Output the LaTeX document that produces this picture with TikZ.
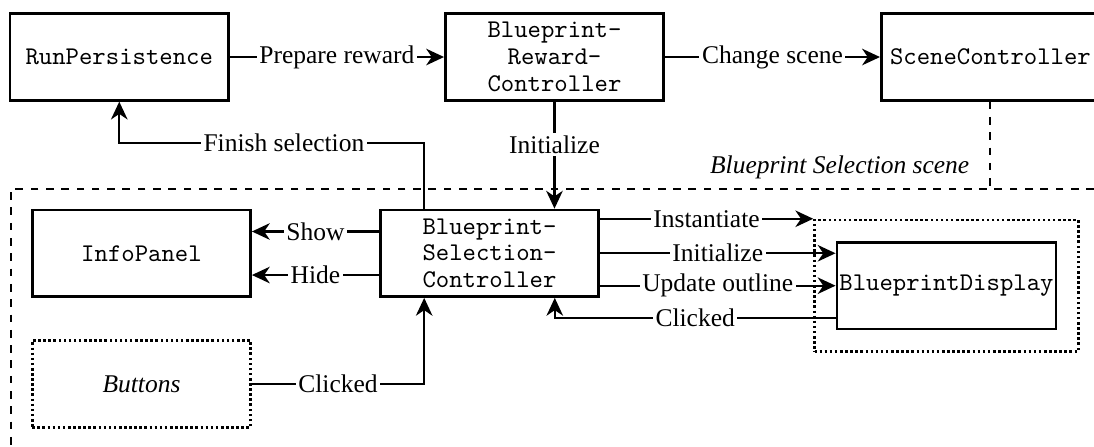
\documentclass[tikz,border=0pt]{standalone}
\usepackage{fontspec}
\setmainfont{Liberation Serif}
\usetikzlibrary{arrows.meta,fit}

\begin{document}
\begin{tikzpicture}[>={Stealth[length=7pt,width=6.5pt,inset=2.2pt]}]
    \tikzstyle{block}=[draw,line width=1pt,minimum width=3.01cm,minimum height=1.195cm,
        inner sep=1pt,align=center,font=\ttfamily\fontsize{10}{10.5}\selectfont]
    \tikzstyle{msg}=[fill=white,inner sep=1pt]
    \tikzstyle{link}=[thick,->]
    \useasboundingbox (0,0) rectangle (15.08,-6.15);
    \clip (0,0) rectangle (15.08,-6.15);
    % Scene border
    \coordinate (corner) at (0.15,-2.605);
    \draw[thick,dashed] (15.5,-2.605) -- (corner) -- (0.15,-6.5);
    % Boxes
    \node[block] (run) at (1.644,-0.786) {RunPersistence};
    \node[block] (reward) at (7.643,-0.786) {Blueprint-\\Reward-\\Controller};
    \node[block] (scene) at (13.652,-0.786) {SceneController};
    \node[block] (bsc) at (6.747,-3.491) {Blueprint-\\Selection-\\Controller};
    \node[block] (info) at (1.950,-3.491) {InfoPanel};
    \node[block,densely dotted,font=\itshape] (buttons) at (1.950,-5.293) {Buttons};
    \node[block] (display) at (13.046,-3.938) {BlueprintDisplay};
    \node[draw,line width=1pt,densely dotted,inner sep=0.29cm,fit=(display)] (group) {};
    \node[anchor=base east,font=\itshape] (scenelabel) at (13.484,-2.391) {Blueprint Selection scene};
    \draw[thick,dashed] (scene.south) -- (scene.south |- corner);
    % Top row
    \draw[link] (run) -- node[msg] {Prepare reward} (reward);
    \draw[link] (reward) -- node[msg] {Change scene} (scene);
    \draw[link] (reward.south) -- node[msg,pos=0.4] {Initialize} (reward.south |- bsc.north);
    \draw[link] ([xshift=-0.9cm]bsc.north) -- ++(0,0.905) -| node[msg,pos=0.23] {Finish selection} (run.south);
    % Selection scene
    \draw[link] ([yshift=0.3cm]bsc.west) -- node[msg] {Show} ([yshift=0.3cm]info.east);
    \draw[link] ([yshift=-0.3cm]bsc.west) -- node[msg] {Hide} ([yshift=-0.3cm]info.east);
    \draw[link] (buttons.east) -| node[msg,pos=0.25] {Clicked} ([xshift=-0.9cm]bsc.south);
    \draw[link] (group.north west -| bsc.east) -- node[msg] {Instantiate} (group.north west);
    \draw[link] (bsc.east) -- node[msg] {Initialize} (bsc.east -| display.west);
    \draw[link] (display.west -| bsc.east) -- node[msg] {Update outline} (display.west);
    \draw[link] ([yshift=-0.44cm]display.west) -| node[msg,pos=0.25] {Clicked} ([xshift=0.9cm]bsc.south);
\end{tikzpicture}
\end{document}
